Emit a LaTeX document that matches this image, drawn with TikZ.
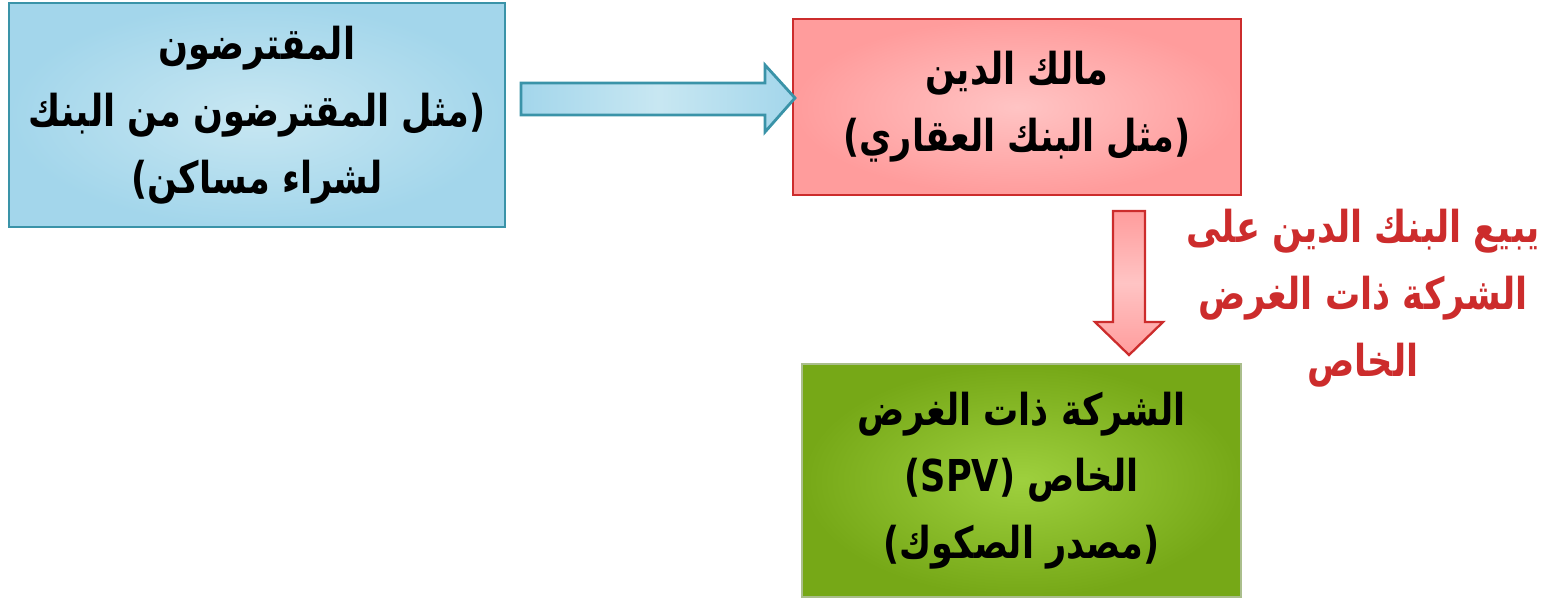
\documentclass[tikz,border=0pt]{standalone}
\usepackage{fontspec}
\newfontfamily\arabicfont[Script=Arabic,FakeStretch=0.8]{DejaVu Sans}
\TeXXeTstate=1
\definecolor{cteal}{RGB}{58,147,168}
\definecolor{cbluein}{RGB}{200,231,242}
\definecolor{cblueout}{RGB}{163,214,235}
\definecolor{cred}{RGB}{204,44,44}
\definecolor{credin}{RGB}{255,196,196}
\definecolor{credout}{RGB}{255,156,156}
\definecolor{cgreenin}{RGB}{158,208,62}
\definecolor{cgreenout}{RGB}{118,168,23}
\definecolor{cgreenrim}{RGB}{170,190,140}
\newcommand{\rtl}[1]{\beginR #1\endR}
\tikzset{
  px/.style={x=0.02cm,y=-0.02cm},
  box/.style={draw,line width=1.6pt,align=center,inner sep=0pt,
    font=\arabicfont\bfseries\fontsize{25}{38}\selectfont}
}

\begin{document}
\begin{tikzpicture}[px]
    \useasboundingbox (0,0) rectangle (1558,599);
    % boxes
    \node[box,draw=cteal,inner color=cbluein,outer color=cblueout,
      minimum width=9.92cm,minimum height=4.48cm] (borrower) at (257,115)
      {\rtl{المقترضون}\\\rtl{(مثل المقترضون من البنك}\\\rtl{لشراء مساكن)}};
    \node[box,draw=cred,line width=1.3pt,inner color=credin,outer color=credout,
      minimum width=8.96cm,minimum height=3.52cm] (owner) at (1017,107)
      {\rtl{مالك الدين}\\\rtl{(مثل البنك العقاري)}};
    \node[box,draw=cgreenrim,line width=1.2pt,inner color=cgreenin,outer color=cgreenout,
      minimum width=8.78cm,minimum height=4.66cm] (spv) at (1021.5,480.5)
      {\rtl{الشركة ذات الغرض}\\\rtl{الخاص (\beginL SPV\endL)}\\\rtl{(مصدر الصكوك)}};
    \node[box,draw=none,text=cred] (sale) at (1363,298)
      {\rtl{يبيع البنك الدين على}\\\rtl{الشركة ذات الغرض}\\\rtl{الخاص}};
    % block arrows
    \draw[cteal,line width=1.6pt,left color=cblueout,right color=cblueout,middle color=cbluein]
      (521,83) -- (765,83) -- (765,65) -- (795,98) -- (765,132) -- (765,115) -- (521,115) -- cycle;
    \draw[cred,line width=1.3pt,top color=credout,bottom color=credout,middle color=credin]
      (1113,211) -- (1145,211) -- (1145,322) -- (1163,322) -- (1129,355) -- (1095,322) -- (1113,322) -- cycle;
\end{tikzpicture}
\end{document}
